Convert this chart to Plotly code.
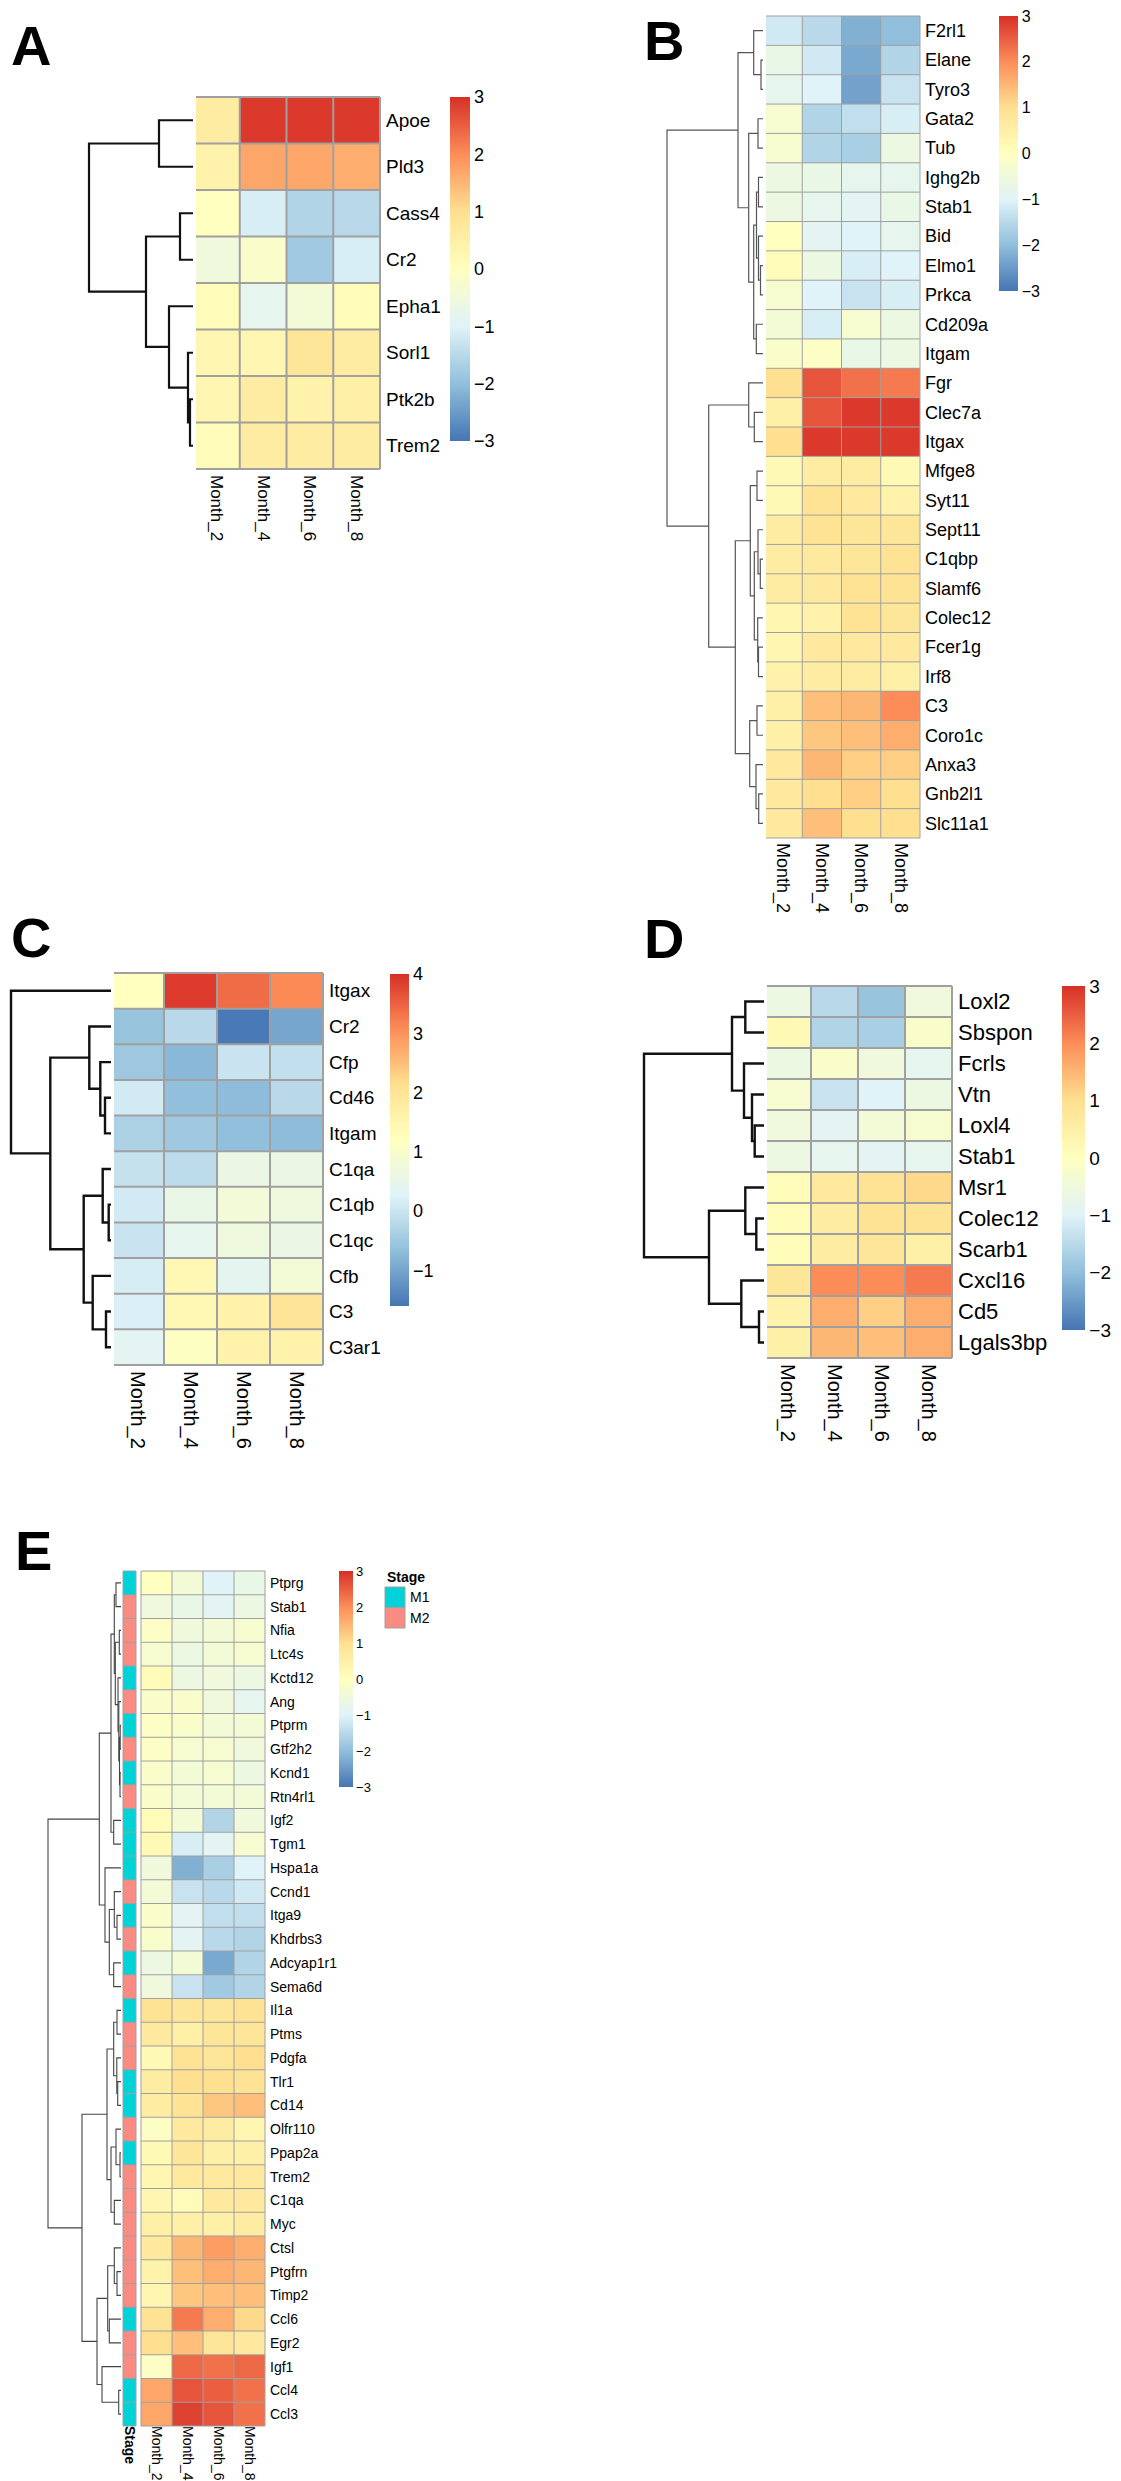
import plotly.graph_objects as go

W, H = 1121, 2481
FONT = "Liberation Sans, Arial, Helvetica, sans-serif"

# ---------------- data ----------------
MONTHS = ["Month_2", "Month_4", "Month_6", "Month_8"]
PALETTE = ["#4575B4", "#91BFDB", "#E0F3F8", "#FFFFBF", "#FEE090", "#FC8D59", "#D73027"]
STAGE_LEVELS = ["M1", "M2"]
STAGE_COLORS = ["#00D3D8", "#F98B83"]

A_genes = ["Apoe", "Pld3", "Cass4", "Cr2", "Epha1", "Sorl1", "Ptk2b", "Trem2"]
A_values = [
    [0.6, 2.9, 2.9, 2.9],
    [0.4, 1.7, 1.7, 1.6],
    [0.0, -1.1, -1.6, -1.5],
    [-0.5, -0.2, -1.8, -1.1],
    [0.1, -0.8, -0.4, 0.1],
    [0.3, 0.3, 0.8, 0.6],
    [0.3, 0.6, 0.4, 0.5],
    [0.1, 0.6, 0.6, 0.6],
]
A_tree = (("Apoe", "Pld3", 34),
          (("Cass4", "Cr2", 13),
           ("Epha1", ("Sorl1", ("Ptk2b", "Trem2", 3), 5), 24), 47),
          104)

B_genes = ["F2rl1", "Elane", "Tyro3", "Gata2", "Tub", "Ighg2b", "Stab1", "Bid", "Elmo1",
           "Prkca", "Cd209a", "Itgam", "Fgr", "Clec7a", "Itgax", "Mfge8", "Syt11", "Sept11",
           "C1qbp", "Slamf6", "Colec12", "Fcer1g", "Irf8", "C3", "Coro1c", "Anxa3", "Gnb2l1",
           "Slc11a1"]
B_values = [
    [-1.2, -1.5, -2.2, -2.0],
    [-0.7, -1.2, -2.3, -1.6],
    [-0.8, -1.0, -2.4, -1.3],
    [-0.3, -1.6, -1.4, -1.1],
    [-0.3, -1.6, -1.7, -0.6],
    [-0.6, -0.7, -0.8, -0.8],
    [-0.6, -0.8, -0.9, -0.7],
    [0.0, -0.9, -1.0, -0.8],
    [0.1, -0.6, -1.1, -1.0],
    [-0.3, -1.0, -1.3, -1.1],
    [-0.4, -1.1, -0.3, -0.6],
    [-0.2, -0.1, -0.7, -0.6],
    [1.0, 2.6, 2.3, 2.2],
    [0.5, 2.6, 2.9, 2.9],
    [1.0, 2.9, 2.9, 2.9],
    [0.2, 0.6, 0.6, 0.2],
    [0.2, 0.9, 0.7, 0.4],
    [0.6, 0.9, 0.8, 0.8],
    [0.6, 0.7, 0.8, 0.9],
    [0.6, 0.7, 0.9, 0.9],
    [0.3, 0.4, 0.9, 0.8],
    [0.3, 0.7, 0.7, 0.7],
    [0.4, 0.6, 0.6, 0.5],
    [0.5, 1.4, 1.5, 2.0],
    [0.5, 1.3, 1.4, 1.6],
    [0.7, 1.5, 1.2, 1.2],
    [0.7, 1.0, 1.2, 1.0],
    [0.7, 1.4, 1.0, 1.0],
]
B_tree = ((("F2rl1", ("Elane", "Tyro3", 2), 9.3),
           (("Gata2", "Tub", 5),
            (((("Ighg2b", "Stab1", 4.5), ("Bid", ("Elmo1", "Prkca", 2.5), 4.5), 6.5)),
             ("Cd209a", "Itgam", 6.7), 9.3),
            14.3),
           25),
          (("Fgr", ("Clec7a", "Itgax", 8.7), 14.3),
           ((("Mfge8", "Syt11", 6),
             (("Sept11", ("C1qbp", "Slamf6", 2.7), 5),
              ("Colec12", ("Fcer1g", "Irf8", 4.5), 5.3), 8.7),
             12.7),
            (("C3", "Coro1c", 6), ("Anxa3", ("Gnb2l1", "Slc11a1", 4.3), 7), 13.3),
            27.7),
           54.3),
          96)

C_genes = ["Itgax", "Cr2", "Cfp", "Cd46", "Itgam", "C1qa", "C1qb", "C1qc", "Cfb", "C3", "C3ar1"]
C_values = [
    [1.2, 3.9, 3.4, 3.1],
    [-0.6, -0.2, -1.55, -1.0],
    [-0.5, -0.75, 0.0, -0.1],
    [0.1, -0.65, -0.7, -0.2],
    [-0.35, -0.5, -0.65, -0.7],
    [-0.05, -0.15, 0.6, 0.6],
    [0.1, 0.55, 0.8, 0.7],
    [0.0, 0.45, 0.7, 0.6],
    [0.15, 1.4, 0.4, 0.85],
    [0.2, 1.4, 1.6, 2.0],
    [0.35, 1.15, 1.6, 1.6],
]
C_range = (-1.6, 4.0)
C_tree = ("Itgax",
          (("Cr2", ("Cfp", ("Cd46", "Itgam", 6), 10.7), 21.7),
           (("C1qa", ("C1qb", "C1qc", 2.3), 8.3),
            ("Cfb", ("C3", "C3ar1", 5), 18.3), 27.3),
           60.7),
          100)

D_genes = ["Loxl2", "Sbspon", "Fcrls", "Vtn", "Loxl4", "Stab1", "Msr1", "Colec12", "Scarb1",
           "Cxcl16", "Cd5", "Lgals3bp"]
D_values = [
    [-0.6, -1.5, -1.9, -0.5],
    [0.2, -1.6, -1.7, -0.2],
    [-0.6, -0.2, -0.5, -0.8],
    [-0.3, -1.3, -1.0, -0.6],
    [-0.5, -0.9, -0.4, -0.3],
    [-0.6, -0.8, -0.9, -0.8],
    [0.1, 0.7, 0.9, 1.1],
    [0.1, 0.6, 0.9, 0.9],
    [0.1, 0.6, 0.8, 0.5],
    [0.8, 2.0, 2.0, 2.2],
    [0.4, 1.6, 1.2, 1.6],
    [0.5, 1.5, 1.4, 1.6],
]
D_tree = ((("Loxl2", "Sbspon", 18.7),
           ("Fcrls", ("Vtn", ("Loxl4", "Stab1", 9.3), 12), 20), 32),
          (("Msr1", ("Colec12", "Scarb1", 7.7), 18.7),
           ("Cxcl16", ("Cd5", "Lgals3bp", 5), 22.7), 55),
          120)

E_genes = ["Ptprg", "Stab1", "Nfia", "Ltc4s", "Kctd12", "Ang", "Ptprm", "Gtf2h2", "Kcnd1",
           "Rtn4rl1", "Igf2", "Tgm1", "Hspa1a", "Ccnd1", "Itga9", "Khdrbs3", "Adcyap1r1",
           "Sema6d", "Il1a", "Ptms", "Pdgfa", "Tlr1", "Cd14", "Olfr110", "Ppap2a", "Trem2",
           "C1qa", "Myc", "Ctsl", "Ptgfrn", "Timp2", "Ccl6", "Egr2", "Igf1", "Ccl4", "Ccl3"]
E_stage = ["M1", "M2", "M2", "M2", "M1", "M2", "M1", "M2", "M1", "M2", "M1", "M1", "M1",
           "M2", "M1", "M2", "M1", "M2", "M1", "M2", "M2", "M1", "M1", "M2", "M1", "M2",
           "M2", "M2", "M2", "M2", "M2", "M1", "M2", "M2", "M1", "M1"]
E_values = [
    [0.0, -0.4, -1.0, -0.7],
    [-0.5, -0.7, -0.9, -0.6],
    [-0.1, -0.5, -0.4, -0.3],
    [-0.3, -0.6, -0.4, -0.3],
    [0.1, -0.6, -0.5, -0.6],
    [-0.2, -0.2, -0.5, -0.8],
    [-0.1, -0.2, -0.4, -0.4],
    [-0.1, -0.3, -0.3, -0.5],
    [-0.2, -0.4, -0.3, -0.6],
    [-0.2, -0.4, -0.4, -0.4],
    [0.1, -0.4, -1.6, -0.5],
    [0.2, -1.1, -0.9, -0.3],
    [-0.5, -2.2, -1.7, -1.0],
    [-0.4, -1.3, -1.5, -1.2],
    [-0.2, -0.9, -1.4, -1.4],
    [-0.2, -0.9, -1.5, -1.6],
    [-0.6, -0.4, -2.3, -1.6],
    [-0.5, -1.3, -1.8, -1.6],
    [0.9, 0.8, 0.8, 0.9],
    [0.7, 0.5, 0.8, 0.8],
    [0.2, 0.9, 0.8, 1.0],
    [0.6, 1.0, 1.0, 0.9],
    [0.6, 0.9, 1.3, 1.4],
    [-0.1, 0.7, 0.6, 0.3],
    [0.2, 0.8, 0.5, 0.5],
    [0.3, 0.7, 0.7, 0.7],
    [0.3, 0.1, 0.7, 0.7],
    [0.5, 0.5, 0.5, 0.6],
    [0.7, 1.5, 1.8, 1.6],
    [0.4, 1.4, 1.6, 1.5],
    [0.3, 1.3, 1.4, 1.4],
    [0.9, 2.2, 1.6, 1.1],
    [1.0, 1.4, 0.8, 0.7],
    [-0.1, 2.4, 2.3, 2.4],
    [1.7, 2.6, 2.5, 2.3],
    [1.7, 2.8, 2.6, 2.3],
]
E_tree = (((((("Ptprg", "Stab1", 5),
              (("Nfia", "Ltc4s", 1.7),
               ("Kctd12", ("Ang", (("Ptprm", "Gtf2h2", 0.8), ("Kcnd1", "Rtn4rl1", 1.0), 1.5), 2.2), 3.0),
               5.7),
              6.7)),
            ("Igf2", "Tgm1", 7.3), 10),
           ("Hspa1a",
            (("Ccnd1", ("Itga9", "Khdrbs3", 4), 6.7), ("Adcyap1r1", "Sema6d", 7.3), 11.7),
            16),
           21.7),
          (((("Il1a", "Ptms", 4), ("Pdgfa", ("Tlr1", "Cd14", 3.3), 4.2), 7.3),
            (("Olfr110", ("Ppap2a", "Trem2", 1.0), 5), ("C1qa", "Myc", 6.7), 10),
            14),
           ((("Ctsl", ("Ptgfrn", "Timp2", 4), 6.7), ("Ccl6", "Egr2", 11.7), 13.3),
            ("Igf1", ("Ccl4", "Ccl3", 2.3), 19),
            24),
           39),
          73)

SYM_RANGE = (-3.0, 3.0)

# ---------------- layout config (pixels) ----------------
PANELS = [
    dict(letter="A", genes=A_genes, values=A_values, tree=A_tree, zr=SYM_RANGE,
         cticks=[-3, -2, -1, 0, 1, 2, 3],
         cells=(185, 372, 89, 461), tip=185, cbar=(442, 462, 89, 433),
         row_font=19, col_font=17, col_off=2, cbar_font=18, grid_w=2, tree_w=2.2,
         tree_col="#111111", lpos=(1, 37)),
    dict(letter="B", genes=B_genes, values=B_values, tree=B_tree, zr=SYM_RANGE,
         cticks=[-3, -2, -1, 0, 1, 2, 3],
         cells=(755, 912, 8, 830), tip=755, cbar=(991, 1010, 8, 283),
         row_font=18, col_font=18, col_off=2, cbar_font=16, grid_w=1, tree_w=1.2,
         tree_col="#555555", lpos=(634, 33)),
    dict(letter="C", genes=C_genes, values=C_values, tree=C_tree, zr=C_range,
         cticks=[-1, 0, 1, 2, 3, 4],
         cells=(103, 315, 965, 1357), tip=103, cbar=(382, 401, 966, 1298),
         row_font=19, col_font=20, col_off=2, cbar_font=18, grid_w=2, tree_w=2.4,
         tree_col="#111111", lpos=(1, 930)),
    dict(letter="D", genes=D_genes, values=D_values, tree=D_tree, zr=SYM_RANGE,
         cticks=[-3, -2, -1, 0, 1, 2, 3],
         cells=(756, 944, 978, 1350), tip=756, cbar=(1054, 1077, 978, 1322),
         row_font=22, col_font=20, col_off=2, cbar_font=19, grid_w=2, tree_w=2.4,
         tree_col="#111111", lpos=(634, 931)),
    dict(letter="E", genes=E_genes, values=E_values, tree=E_tree, zr=SYM_RANGE,
         cticks=[-3, -2, -1, 0, 1, 2, 3],
         cells=(133, 257, 1563, 2418), tip=113, cbar=(331, 345, 1563, 1779),
         row_font=14, col_font=14, col_off=-3, cbar_font=13, grid_w=1, tree_w=1.1,
         tree_col="#444444", lpos=(5, 1542)),
]
E_STAGE_CELLS = (115, 128, 1563, 2418)
E_LEGEND_CELLS = (377, 397, 1579, 1620)
E_LEGEND_TITLE = (377, 1569)

GRID_COLOR = "#A0A0A0"
COLORSCALE = [[i / (len(PALETTE) - 1), c] for i, c in enumerate(PALETTE)]

fig = go.Figure()
axis_count = [0]
layout_axes = {}


def new_axes(xdom, ydom, xrange, yrange, xopts=None, yopts=None):
    axis_count[0] += 1
    n = axis_count[0]
    s = "" if n == 1 else str(n)
    base = dict(showgrid=False, zeroline=False, showline=False, ticks="",
                fixedrange=True, automargin=False, ticklabeloverflow="allow")
    xa = dict(base, domain=xdom, range=xrange, anchor="y" + s, showticklabels=False)
    ya = dict(base, domain=ydom, range=yrange, anchor="x" + s, showticklabels=False)
    if xopts:
        xa.update(xopts)
    if yopts:
        ya.update(yopts)
    layout_axes["xaxis" + s] = xa
    layout_axes["yaxis" + s] = ya
    return "x" + s, "y" + s


def tree_lines(tree, order):
    xs, ys = [], []

    def walk(node):
        if isinstance(node, str):
            return float(order.index(node)), 0.0
        left, right, h = node
        yl, hl = walk(left)
        yr, hr = walk(right)
        xs.extend([hl, h, h, hr, None])
        ys.extend([yl, yl, yr, yr, None])
        return (yl + yr) / 2.0, h

    walk(tree)
    return xs, ys


def grid_lines(nrow, ncol):
    xs, ys = [], []
    for j in range(ncol + 1):
        xs += [j - 0.5, j - 0.5, None]
        ys += [-0.5, nrow - 0.5, None]
    for i in range(nrow + 1):
        xs += [-0.5, ncol - 0.5, None]
        ys += [i - 0.5, i - 0.5, None]
    return xs, ys


def frame(cells, nrow, ncol, pad):
    x0, x1, y0, y1 = cells
    cw = (x1 - x0) / ncol
    rh = (y1 - y0) / nrow
    xdom = [(x0 - pad) / W, (x1 + pad) / W]
    ydom = [1 - (y1 + pad) / H, 1 - (y0 - pad) / H]
    xr = [-0.5 - pad / cw, ncol - 0.5 + pad / cw]
    yr = [nrow - 0.5 + pad / rh, -0.5 - pad / rh]
    return xdom, ydom, xr, yr


def fmt_tick(v):
    return ("\u2212" + str(abs(v))) if v < 0 else str(v)


annotations = []

for P in PANELS:
    genes, vals = P["genes"], P["values"]
    nrow, ncol = len(genes), len(MONTHS)
    pad = P["grid_w"] + 1
    xdom, ydom, xr, yr = frame(P["cells"], nrow, ncol, pad)
    xa, ya = new_axes(
        xdom, ydom, xr, yr,
        xopts=dict(showticklabels=True, tickvals=list(range(ncol)), ticktext=MONTHS,
                   tickangle=90, side="bottom", ticklabelstandoff=P["col_off"],
                   tickfont=dict(size=P["col_font"], color="#000", family=FONT)),
        yopts=dict(showticklabels=True, tickvals=list(range(nrow)), ticktext=genes,
                   side="right", ticklabelstandoff=2,
                   tickfont=dict(size=P["row_font"], color="#000", family=FONT)))
    cx0, cx1, cy0, cy1 = P["cbar"]
    fig.add_trace(go.Heatmap(
        z=vals, x=list(range(ncol)), y=list(range(nrow)), xaxis=xa, yaxis=ya,
        colorscale=COLORSCALE, zmin=P["zr"][0], zmax=P["zr"][1], hoverinfo="skip",
        colorbar=dict(x=cx0 / W, xanchor="left", xpad=0, y=1 - cy0 / H, yanchor="top",
                      ypad=0, len=cy1 - cy0, lenmode="pixels", thickness=cx1 - cx0,
                      thicknessmode="pixels", outlinewidth=0, ticks="",
                      ticklabeloverflow="allow",
                      tickvals=P["cticks"], ticktext=[fmt_tick(v) for v in P["cticks"]],
                      tickfont=dict(size=P["cbar_font"], color="#000", family=FONT))))
    gx, gy = grid_lines(nrow, ncol)
    fig.add_trace(go.Scatter(x=gx, y=gy, mode="lines", xaxis=xa, yaxis=ya,
                             line=dict(color=GRID_COLOR, width=P["grid_w"]),
                             hoverinfo="skip", showlegend=False))

    # dendrogram
    tx, ty = tree_lines(P["tree"], genes)
    root_h = P["tree"][2]
    tip = P["tip"]
    dpad = 3
    _, ydom_t, _, yr_t = frame(P["cells"], nrow, ncol, pad)
    dxa, dya = new_axes([(tip - root_h - dpad) / W, (tip + dpad) / W], ydom_t,
                        [root_h + dpad, -dpad], yr_t)
    fig.add_trace(go.Scatter(x=tx, y=ty, mode="lines", xaxis=dxa, yaxis=dya,
                             line=dict(color=P["tree_col"], width=P["tree_w"]),
                             hoverinfo="skip", showlegend=False))

    lx, ly = P["lpos"]
    annotations.append(dict(text="<b>%s</b>" % P["letter"], x=lx / W, y=1 - ly / H,
                            xref="paper", yref="paper", xanchor="left", yanchor="middle",
                            showarrow=False, font=dict(size=56, color="#000", family=FONT)))

# ---- panel E stage annotation column ----
E_nrow = len(E_genes)
stage_z = [[STAGE_LEVELS.index(s)] for s in E_stage]
stage_scale = [[0, STAGE_COLORS[0]], [0.5, STAGE_COLORS[0]], [0.5, STAGE_COLORS[1]], [1, STAGE_COLORS[1]]]
xdom, ydom, xr, yr = frame(E_STAGE_CELLS, E_nrow, 1, 2)
sxa, sya = new_axes(xdom, ydom, xr, yr,
                    xopts=dict(showticklabels=True, tickvals=[0], ticktext=["<b>Stage</b>"],
                               tickangle=90, side="bottom", ticklabelstandoff=-3,
                               tickfont=dict(size=14, color="#000", family=FONT)))
fig.add_trace(go.Heatmap(z=stage_z, x=[0], y=list(range(E_nrow)), xaxis=sxa, yaxis=sya,
                         colorscale=stage_scale, zmin=0, zmax=1, showscale=False,
                         hoverinfo="skip"))
gx, gy = grid_lines(E_nrow, 1)
fig.add_trace(go.Scatter(x=gx, y=gy, mode="lines", xaxis=sxa, yaxis=sya,
                         line=dict(color=GRID_COLOR, width=1), hoverinfo="skip",
                         showlegend=False))

# ---- stage legend ----
xdom, ydom, xr, yr = frame(E_LEGEND_CELLS, len(STAGE_LEVELS), 1, 2)
lxa, lya = new_axes(xdom, ydom, xr, yr,
                    yopts=dict(showticklabels=True, tickvals=list(range(len(STAGE_LEVELS))),
                               ticktext=STAGE_LEVELS, side="right", ticklabelstandoff=2,
                               tickfont=dict(size=14, color="#000", family=FONT)))
fig.add_trace(go.Heatmap(z=[[i] for i in range(len(STAGE_LEVELS))], x=[0],
                         y=list(range(len(STAGE_LEVELS))), xaxis=lxa, yaxis=lya,
                         colorscale=stage_scale, zmin=0, zmax=1, showscale=False,
                         hoverinfo="skip"))
gx, gy = grid_lines(len(STAGE_LEVELS), 1)
fig.add_trace(go.Scatter(x=gx, y=gy, mode="lines", xaxis=lxa, yaxis=lya,
                         line=dict(color=GRID_COLOR, width=1), hoverinfo="skip",
                         showlegend=False))
annotations.append(dict(text="<b>Stage</b>", x=E_LEGEND_TITLE[0] / W,
                        y=1 - E_LEGEND_TITLE[1] / H, xref="paper", yref="paper",
                        xanchor="left", yanchor="middle", showarrow=False,
                        font=dict(size=14, color="#000", family=FONT)))

fig.update_layout(template="none", width=W, height=H, margin=dict(l=0, r=0, t=0, b=0),
                  paper_bgcolor="white", plot_bgcolor="white", showlegend=False,
                  font=dict(family=FONT, color="#000"), annotations=annotations,
                  **layout_axes)

fig.write_html("out.html")
